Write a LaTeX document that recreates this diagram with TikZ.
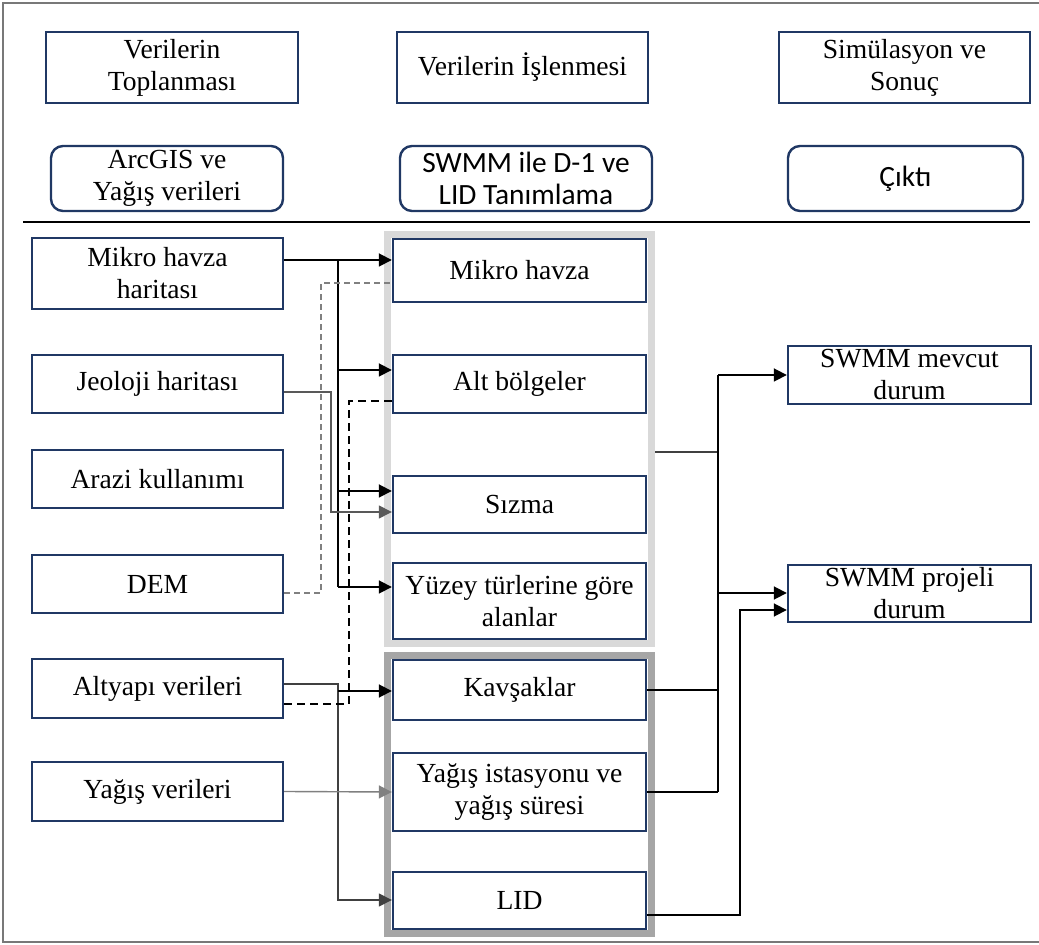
\documentclass[tikz,border=0pt]{standalone}
\usepackage{fontspec}
\setmainfont{Liberation Serif}
\newfontfamily\calfont{Carlito}
\usetikzlibrary{arrows.meta,fit,backgrounds}
\definecolor{navy}{RGB}{32,56,100}
\definecolor{grpA}{RGB}{217,217,217}
\definecolor{grpB}{RGB}{166,166,166}
\definecolor{lineG}{RGB}{89,89,89}
\definecolor{lineL}{RGB}{128,128,128}
\definecolor{lineD}{RGB}{64,64,64}
\definecolor{frameG}{RGB}{120,120,120}
\begin{document}
\begin{tikzpicture}[x=0.5pt,y=-0.5pt,
  sz/.style 2 args={minimum width=#1*0.5pt, minimum height=#2*0.5pt},
  bx/.style={draw=navy, line width=1.2pt, fill=white, inner sep=0pt, align=center,
     font=\fontsize{13.8}{16}\selectfont},
  rbx/.style={bx, rounded corners=6pt},
  sansbx/.style={rbx, font=\calfont\fontsize{14.7}{16}\selectfont},
  arr/.style={-{Triangle[length=6.5pt,width=6.5pt]}},
  blk/.style={draw=black, line width=0.9pt},
  gry/.style={draw=lineG, line width=0.7pt},
  lgr/.style={draw=lineL, line width=0.7pt},
  dkl/.style={draw=lineD, line width=0.8pt},
  dgd/.style={draw=lineL, line width=0.7pt, dash pattern=on 3pt off 2pt},
  bkd/.style={draw=black, line width=0.8pt, dash pattern=on 4pt off 2.5pt},
  grp/.style={line width=3.5pt, inner xsep=2.25pt, inner ysep=1.5pt, fill=none}
]
\useasboundingbox (0,0) rectangle (1039,945);
\draw[frameG, line width=1pt] (1040,3) -- (3,3) -- (3,942) -- (1040,942);

% header row 1
\node[bx, sz={252}{71}] (A1) at (172,67.5) {Verilerin\\Toplanması};
\node[bx, sz={251}{71}] (A2) at (522.5,67.5) {Verilerin İşlenmesi};
\node[bx, sz={251}{71}] (A3) at (904.5,67.5) {Simülasyon ve\\Sonuç};
% header row 2
\node[rbx, sz={232}{65}] (B1) at (167,178.5) {ArcGIS ve\\Yağış verileri};
\node[sansbx, sz={252}{65}] (B2) at (526,178.5) {SWMM ile D-1 ve\\LID Tanımlama};
\node[sansbx, sz={235}{65}] (B3) at (905.5,178.5) {Çıktı};
\coordinate (h1) at (23,222);
\coordinate (h2) at (1030,222);
\draw[black, line width=1.4pt] (h1) -- (h2);

% left column
\node[bx, sz={251}{71}] (L1) at (157.5,273.5) {Mikro havza\\haritası};
\node[bx, sz={251}{58}] (L2) at (157.5,384) {Jeoloji haritası};
\node[bx, sz={251}{58}] (L3) at (157.5,479) {Arazi kullanımı};
\node[bx, sz={251}{58}] (L4) at (157.5,584) {DEM};
\node[bx, sz={251}{59}] (L5) at (157.5,688.5) {Altyapı verileri};
\node[bx, sz={251}{59}] (L6) at (157.5,791.5) {Yağış verileri};

% middle column
\node[bx, sz={253}{63}] (M1) at (519.5,270.5) {Mikro havza};
\node[bx, sz={253}{58}] (M2) at (519.5,384) {Alt bölgeler};
\node[bx, sz={253}{57}] (M3) at (519.5,504.5) {Sızma};
\node[bx, sz={253}{76}] (M4) at (519.5,601) {Yüzey türlerine göre\\alanlar};
\node[bx, sz={253}{60}] (M5) at (519.5,690) {Kavşaklar};
\node[bx, sz={253}{78}] (M6) at (519.5,792) {Yağış istasyonu ve\\yağış süresi};
\node[bx, sz={253}{57}] (M7) at (519.5,900.5) {LID};

\begin{scope}[on background layer]
\fill[white] (0,0) rectangle (1039,945);
\node[grp, draw=grpA, fit=(M1)(M4)] (G1) {};
\node[grp, draw=grpB, fit=(M5)(M7)] (G2) {};
\end{scope}

% right column
\node[bx, sz={243}{58}] (R1) at (909.5,375) {SWMM mevcut\\durum};
\node[bx, sz={243}{57}] (R2) at (909.5,593.5) {SWMM projeli\\durum};

% Mikro havza haritasi trunk
\coordinate (t1) at (338,260);
\coordinate (t2) at (338,370);
\coordinate (t3) at (338,491);
\coordinate (t4) at (338,587);
\draw[blk,arr] (L1.east |- t1) -- (M1.west |- t1);
\draw[blk] (t1) -- (t4);
\draw[blk,arr] (t2) -- (M2.west |- t2);
\draw[blk,arr] (t3) -- (M3.west |- t3);
\draw[blk,arr] (t4) -- (M4.west |- t4);

% Jeoloji
\coordinate (g1) at (331,392);
\coordinate (g2) at (331,512);
\draw[gry,arr] (L2.east |- g1) -- (g1) -- (g2) -- (M3.west |- g2);

% DEM dashed
\coordinate (d1) at (321,593);
\coordinate (d2) at (321,283);
\draw[dgd] (L4.east |- d1) -- (d1) -- (d2) -- (M1.west |- d2);

% Altyapi
\coordinate (a1) at (338,684);
\coordinate (a2) at (338,691);
\coordinate (a3) at (338,900);
\draw[dkl,arr] (L5.east |- a1) -- (a1) -- (a3) -- (M7.west |- a3);
\draw[blk,arr] (a2) -- (M5.west |- a2);
\coordinate (b1) at (349,704);
\coordinate (b2) at (349,401);
\draw[bkd] (L5.east |- b1) -- (b1) -- (b2) -- (M2.west |- b2);

% Yagis
\draw[lgr,arr] (L6.east) -- (M6.west);

% right side
\coordinate (r0) at (718,452);
\coordinate (r1) at (718,375);
\coordinate (r2) at (718,593);
\coordinate (r3) at (718,690);
\coordinate (r4) at (718,792);
\draw[dkl] (G1.east |- r0) -- (r0);
\draw[blk] (r1) -- (r4);
\draw[blk,arr] (r1) -- (R1.west |- r1);
\draw[blk,arr] (r2) -- (R2.west |- r2);
\draw[blk] (M5.east |- r3) -- (r3);
\draw[blk] (M6.east |- r4) -- (r4);
\coordinate (s1) at (740,915);
\coordinate (s2) at (740,610);
\draw[blk,arr] (M7.east |- s1) -- (s1) -- (s2) -- (R2.west |- s2);
\end{tikzpicture}
\end{document}
